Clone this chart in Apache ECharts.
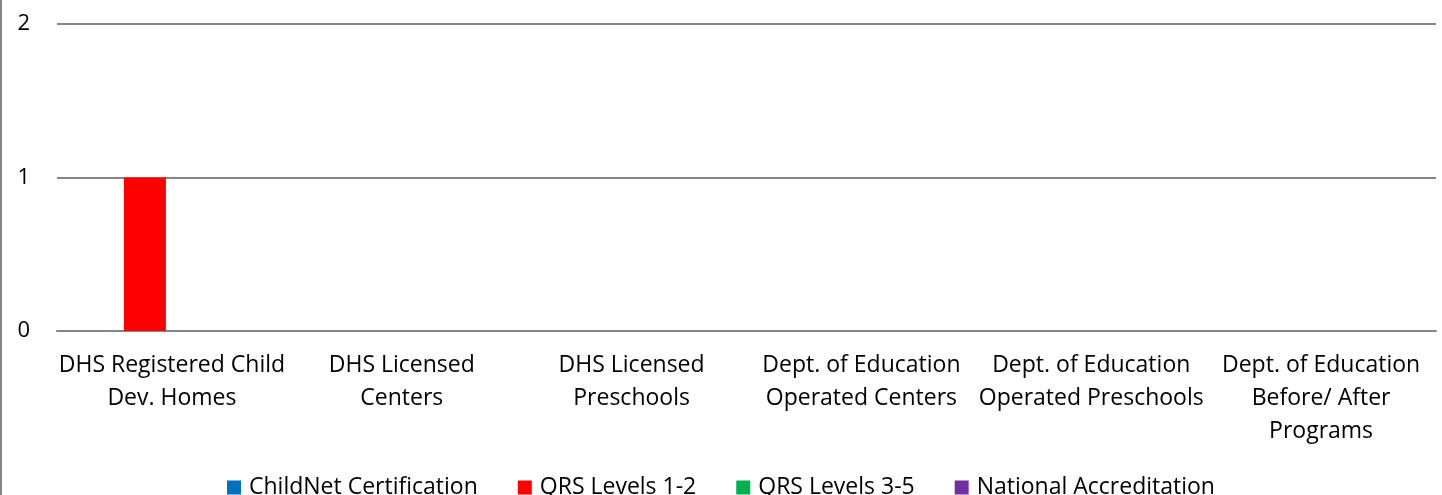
<!DOCTYPE html>
<html><head><meta charset="utf-8">
<script src="https://cdn.jsdelivr.net/npm/echarts@6/dist/echarts.min.js"></script>
<style>html,body{margin:0;padding:0;background:#fff}#c{width:1442px;height:495px}</style>
</head><body><div id="c"></div>
<script>
const categories = ["DHS Registered Child\nDev. Homes","DHS Licensed\nCenters","DHS Licensed\nPreschools","Dept. of Education\nOperated Centers","Dept. of Education\nOperated Preschools","Dept. of Education\nBefore/ After\nPrograms"];
const seriesNames = ["ChildNet Certification","QRS Levels 1-2","QRS Levels 3-5","National Accreditation"];
const childNet = [0,0,0,0,0,0];
const qrs12 = [1,0,0,0,0,0];
const qrs35 = [0,0,0,0,0,0];
const national = [0,0,0,0,0,0];
const colors = ["#0070C0","#FF0000","#00B050","#7030A0"];
const font = "'Open Sans', sans-serif";
const chart = echarts.init(document.getElementById('c'));
const dataSets = [childNet, qrs12, qrs35, national];
chart.setOption({
  animation:false,
  textStyle:{fontFamily:font},
  graphic:[{type:'line',shape:{x1:1,y1:0,x2:1,y2:495},style:{stroke:'#868686',lineWidth:2}}],
  grid:{left:57,right:6,top:24,bottom:164,containLabel:false},
  legend:{bottom:-9,left:'center',itemWidth:14,itemHeight:14,itemGap:40,icon:'rect',
    textStyle:{fontFamily:font,fontSize:23,color:'#000',padding:[0,0,0,3]},data:seriesNames},
  xAxis:{type:'category',data:categories,axisTick:{show:false},
    axisLine:{lineStyle:{color:'#868686',width:2}},
    axisLabel:{fontFamily:font,fontSize:23,color:'#000',lineHeight:33,margin:18,interval:0}},
  yAxis:{type:'value',min:0,max:2,interval:1,
    axisLine:{show:false},axisTick:{show:false},
    splitLine:{lineStyle:{color:'#868686',width:2}},
    axisLabel:{fontFamily:font,fontSize:22,color:'#000',margin:27}},
  series:seriesNames.map((n,i)=>({name:n,type:'bar',data:dataSets[i],barWidth:42,barGap:'28.6%',itemStyle:{color:colors[i]}}))
});
</script></body></html>
